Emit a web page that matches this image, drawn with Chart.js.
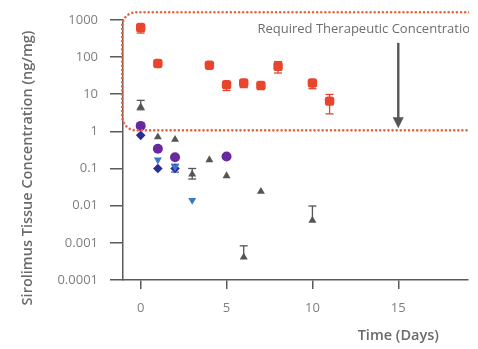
<!DOCTYPE html>
<html><head><meta charset="utf-8">
<script src="https://cdn.jsdelivr.net/npm/chart.js@4"></script>
<style>html,body{margin:0;padding:0;background:#fff}#wrap{width:478px;height:349px;position:relative}</style>
</head><body><div id="wrap"><canvas id="c" width="478" height="349" style="width:478px;height:349px"></canvas></div>
<script>
// ---- data ----
const yTickValues = [0.0001, 0.001, 0.01, 0.1, 1, 10, 100, 1000];
const yTickLabels = ['0.0001', '0.001', '0.01', '0.1', '1', '10', '100', '1000'];
const xTickValues = [0, 5, 10, 15];
const xTickLabels = ['0', '5', '10', '15'];

const redDays = [0, 1, 4, 5, 6, 7, 8, 10, 11];
const redValues = [620, 67, 60, 18, 20, 17, 56, 20, 6.5];
const redErrLow = [440, null, null, 12.5, 15, null, 37, 14, 2.95];
const redErrHigh = [null, null, null, null, null, null, 75, null, 9.8];

const grayDays = [0, 1, 2, 3, 4, 5, 6, 7, 10];
const grayValues = [4.5, 0.7, 0.6, 0.07, 0.17, 0.063, 0.00041, 0.024, 0.004];
const grayErrLow = [3.8, null, null, 0.052, null, null, null, null, null];
const grayErrHigh = [6.8, null, null, 0.10, null, null, 0.00083, null, 0.0098];

const purpleDays = [0, 1, 2, 5];
const purpleValues = [1.4, 0.34, 0.2, 0.21];

const blueTriDays = [1, 2, 3];
const blueTriValues = [0.17, 0.11, 0.014];

const diamondDays = [0, 1, 2];
const diamondValues = [0.78, 0.1, 0.1];
const diamondErrLow = [null, null, 0.08];
const diamondErrHigh = [null, null, 0.13];

// annotation: required therapeutic concentration band
const bandLow = 1.06;
const bandHigh = 1600;
const bandLeftDay = -1.08;
const arrowDay = 15;
const arrowFrom = 240;
const arrowTo = 1.2;
const bandLabel = 'Required Therapeutic Concentration';
const bandLabelDay = 6.8;
const bandLabelValue = 560;

const yTitle = 'Sirolimus Tissue Concentration (ng/mg)';
const xTitle = 'Time (Days)';

function pts(xs, ys) { return xs.map((x, i) => ({ x: x, y: ys[i] })); }

const FONT = '"Open Sans", "Liberation Sans", sans-serif';
const AXIS = '#5a5a5a';
const CLIP_RIGHT = 469;

const errorBars = {
  id: 'errorBars',
  beforeDatasetsDraw(chart) {
    const ctx = chart.ctx, xs = chart.scales.x, ys = chart.scales.y;
    chart.data.datasets.forEach(ds => {
      if (!ds.errLow) return;
      ds.data.forEach((p, i) => {
        const lo = ds.errLow[i], hi = ds.errHigh[i];
        if (lo == null && hi == null) return;
        const px = xs.getPixelForValue(p.x);
        const y0 = ys.getPixelForValue(p.y);
        ctx.save();
        ctx.strokeStyle = ds.errColor; ctx.lineWidth = 1.3;
        [lo, hi].forEach(v => {
          if (v == null) return;
          const py = ys.getPixelForValue(v);
          ctx.beginPath(); ctx.moveTo(px, y0); ctx.lineTo(px, py); ctx.stroke();
          ctx.beginPath(); ctx.moveTo(px - 4, py); ctx.lineTo(px + 4, py); ctx.stroke();
        });
        ctx.restore();
      });
    });
  }
};

const overlay = {
  id: 'overlay',
  afterDraw(chart) {
    const ctx = chart.ctx, xs = chart.scales.x, ys = chart.scales.y;
    ctx.save();
    ctx.beginPath(); ctx.rect(0, 0, CLIP_RIGHT, chart.height); ctx.clip();
    // dotted rounded band
    const l = xs.getPixelForValue(bandLeftDay), t = ys.getPixelForValue(bandHigh), b = ys.getPixelForValue(bandLow);
    const r = 14, right = chart.width + 20;
    ctx.strokeStyle = '#e8643c'; ctx.lineWidth = 2.6; ctx.lineCap = 'round';
    ctx.setLineDash([0.01, 4.1]);
    ctx.beginPath();
    ctx.moveTo(right, t);
    ctx.lineTo(l + r, t);
    ctx.arcTo(l, t, l, t + r, r);
    ctx.lineTo(l, b - r);
    ctx.arcTo(l, b, l + r, b, r);
    ctx.lineTo(right, b);
    ctx.stroke();
    ctx.setLineDash([]);
    // label
    ctx.fillStyle = '#6e6e6e'; ctx.font = '13px ' + FONT;
    ctx.textBaseline = 'middle'; ctx.textAlign = 'left';
    ctx.fillText(bandLabel, xs.getPixelForValue(bandLabelDay), ys.getPixelForValue(bandLabelValue));
    // arrow
    const ax = xs.getPixelForValue(arrowDay), a0 = ys.getPixelForValue(arrowFrom), a1 = ys.getPixelForValue(arrowTo);
    ctx.strokeStyle = '#555'; ctx.fillStyle = '#555'; ctx.lineWidth = 2.4; ctx.lineCap = 'butt';
    ctx.beginPath(); ctx.moveTo(ax, a0); ctx.lineTo(ax, a1 - 9); ctx.stroke();
    ctx.beginPath(); ctx.moveTo(ax - 5.5, a1 - 11); ctx.lineTo(ax + 5.5, a1 - 11); ctx.lineTo(ax, a1); ctx.closePath(); ctx.fill();
    ctx.restore();
    // axis titles
    ctx.save();
    ctx.fillStyle = '#6a6a6a'; ctx.font = '600 14.5px ' + FONT;
    ctx.textAlign = 'center'; ctx.textBaseline = 'middle';
    ctx.translate(28, 168); ctx.rotate(-Math.PI / 2);
    ctx.fillText(yTitle, 0, 0);
    ctx.restore();
    ctx.save();
    ctx.fillStyle = '#6a6a6a'; ctx.font = '600 14.5px ' + FONT;
    ctx.textAlign = 'center'; ctx.textBaseline = 'middle';
    ctx.fillText(xTitle, xs.getPixelForValue(arrowDay), 336);
    ctx.restore();
  }
};

new Chart(document.getElementById('c'), {
  type: 'scatter',
  data: {
    datasets: [
      { label: 'A', data: pts(redDays, redValues), errLow: redErrLow, errHigh: redErrHigh, errColor: '#e0452b',
        pointStyle: 'rectRounded', pointRadius: 5.5, backgroundColor: '#e8452c', borderColor: '#e8452c', borderWidth: 0 },
      { label: 'B', data: pts(grayDays, grayValues), errLow: grayErrLow, errHigh: grayErrHigh, errColor: '#555',
        pointStyle: 'triangle', pointRadius: 4.6, backgroundColor: '#555', borderColor: '#555', borderWidth: 0 },
      { label: 'C', data: pts(purpleDays, purpleValues),
        pointStyle: 'circle', pointRadius: 5, backgroundColor: '#6a28a0', borderColor: '#6a28a0', borderWidth: 0 },
      { label: 'D', data: pts(blueTriDays, blueTriValues),
        pointStyle: 'triangle', rotation: 180, pointRadius: 4.6, backgroundColor: '#3b78cc', borderColor: '#3b78cc', borderWidth: 0 },
      { label: 'E', data: pts(diamondDays, diamondValues), errLow: diamondErrLow, errHigh: diamondErrHigh, errColor: '#3b5fc0',
        pointStyle: 'rectRot', pointRadius: 4.8, backgroundColor: '#2c2c94', borderColor: '#2c2c94', borderWidth: 0 }
    ]
  },
  options: {
    responsive: false, maintainAspectRatio: false, animation: false, devicePixelRatio: 1,
    layout: { padding: { top: 13, right: 10, left: 0, bottom: 0 } },
    plugins: { legend: { display: false }, tooltip: { enabled: false } },
    scales: {
      x: {
        type: 'linear', min: -1.03, max: 19.06,
        afterBuildTicks: s => { s.ticks = xTickValues.map(v => ({ value: v })); },
        afterFit: s => { s.height = 69; },
        ticks: { color: '#7f7f7f', font: { family: FONT, size: 13 }, padding: 11, autoSkip: false, maxRotation: 0,
          callback: (v) => xTickLabels[xTickValues.indexOf(v)] },
        grid: { display: true, drawOnChartArea: false, drawTicks: true, tickLength: 9, color: AXIS, lineWidth: 1.5 },
        border: { display: true, color: AXIS, width: 1.5 }
      },
      y: {
        type: 'logarithmic', min: 0.0001, max: 1000,
        afterBuildTicks: s => { s.ticks = yTickValues.map(v => ({ value: v })); },
        afterFit: s => { s.width = 123; },
        ticks: { color: '#7f7f7f', font: { family: FONT, size: 13 }, padding: 12, autoSkip: false,
          callback: (v) => yTickLabels[yTickValues.indexOf(v)] },
        grid: { display: true, drawOnChartArea: false, drawTicks: true, tickLength: 13, color: AXIS, lineWidth: 1.5 },
        border: { display: true, color: AXIS, width: 1.5 }
      }
    }
  },
  plugins: [errorBars, overlay]
});
</script></body></html>
